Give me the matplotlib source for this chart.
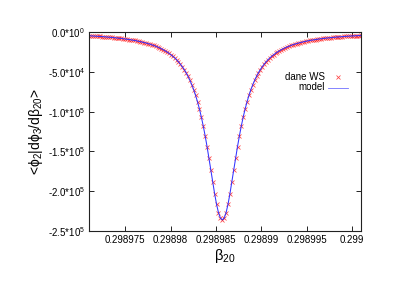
import matplotlib
matplotlib.use("Agg")
import matplotlib.pyplot as plt

plt.rcParams['font.family'] = ['Liberation Sans', 'DejaVu Sans']
plt.rcParams['mathtext.fontset'] = 'custom'
plt.rcParams['mathtext.rm'] = 'Liberation Sans'
plt.rcParams['mathtext.it'] = 'Liberation Sans:italic'

# beta_20 sample positions
beta20 = [
    0.29897100, 0.29897121, 0.29897142, 0.29897163, 0.29897184, 0.29897205, 0.29897226, 0.29897247, 0.29897268, 0.29897289,
    0.29897310, 0.29897331, 0.29897352, 0.29897373, 0.29897394, 0.29897415, 0.29897436, 0.29897457, 0.29897478, 0.29897499,
    0.29897520, 0.29897541, 0.29897562, 0.29897583, 0.29897604, 0.29897625, 0.29897646, 0.29897667, 0.29897688, 0.29897709,
    0.29897730, 0.29897751, 0.29897772, 0.29897793, 0.29897814, 0.29897835, 0.29897856, 0.29897877, 0.29897898, 0.29897919,
    0.29897940, 0.29897961, 0.29897982, 0.29898003, 0.29898024, 0.29898045, 0.29898066, 0.29898087, 0.29898108, 0.29898129,
    0.29898150, 0.29898171, 0.29898192, 0.29898213, 0.29898234, 0.29898255, 0.29898276, 0.29898297, 0.29898318, 0.29898339,
    0.29898360, 0.29898381, 0.29898402, 0.29898423, 0.29898444, 0.29898465, 0.29898486, 0.29898507, 0.29898528, 0.29898549,
    0.29898570, 0.29898591, 0.29898612, 0.29898633, 0.29898654, 0.29898675, 0.29898696, 0.29898717, 0.29898738, 0.29898759,
    0.29898780, 0.29898801, 0.29898822, 0.29898843, 0.29898864, 0.29898885, 0.29898906, 0.29898927, 0.29898948, 0.29898969,
    0.29898990, 0.29899011, 0.29899032, 0.29899053, 0.29899074, 0.29899095, 0.29899116, 0.29899137, 0.29899158, 0.29899179,
    0.29899200, 0.29899221, 0.29899242, 0.29899263, 0.29899284, 0.29899305, 0.29899326, 0.29899347, 0.29899368, 0.29899389,
    0.29899410, 0.29899431, 0.29899452, 0.29899473, 0.29899494, 0.29899515, 0.29899536, 0.29899557, 0.29899578, 0.29899599,
    0.29899620, 0.29899641, 0.29899662, 0.29899683, 0.29899704, 0.29899725, 0.29899746, 0.29899767, 0.29899788, 0.29899809,
    0.29899830, 0.29899851, 0.29899872, 0.29899893, 0.29899914, 0.29899935, 0.29899956, 0.29899977, 0.29899998, 0.29900019,
    0.29900040, 0.29900061, 0.29900082, 0.29900103,
]

# <phi2|dphi3/dbeta20> values (data "dane WS"; model follows the same points)
dane_ws = [
    -4720, -4855, -4996, -5143, -5296, -5457, -5624, -5800, -5984, -6176,
    -6378, -6590, -6813, -7047, -7293, -7552, -7825, -8113, -8417, -8737,
    -9077, -9436, -9817, -10221, -10650, -11106, -11591, -12109, -12661, -13251,
    -13882, -14559, -15285, -16065, -16905, -17811, -18790, -19849, -20996, -22243,
    -23600, -25080, -26697, -28468, -30412, -32552, -34911, -37520, -40411, -43623,
    -47200, -51193, -55660, -60668, -66292, -72615, -79730, -87732, -96721, -106787,
    -118000, -130387, -143902, -158389, -173529, -188800, -203448, -216514, -226923, -233663,
    -236000, -233663, -226923, -216514, -203448, -188800, -173529, -158389, -143902, -130387,
    -118000, -106787, -96721, -87732, -79730, -72615, -66292, -60668, -55660, -51193,
    -47200, -43623, -40411, -37520, -34911, -32552, -30412, -28468, -26697, -25080,
    -23600, -22243, -20996, -19849, -18790, -17811, -16905, -16065, -15285, -14559,
    -13882, -13251, -12661, -12109, -11591, -11106, -10650, -10221, -9817, -9436,
    -9077, -8737, -8417, -8113, -7825, -7552, -7293, -7047, -6813, -6590,
    -6378, -6176, -5984, -5800, -5624, -5457, -5296, -5143, -4996, -4855,
    -4720, -4591, -4466, -4347,
]
model = list(dane_ws)

xticks = [0.298975, 0.29898, 0.298985, 0.29899, 0.298995, 0.299]
xtick_labels = ['0.298975', '0.29898', '0.298985', '0.29899', '0.298995', '0.299']
yticks = [0, -50000, -100000, -150000, -200000, -250000]
ytick_labels = ['0.0*10$^{0}$', '-5.0*10$^{4}$', '-1.0*10$^{5}$', '-1.5*10$^{5}$',
                '-2.0*10$^{5}$', '-2.5*10$^{5}$']

fig = plt.figure(figsize=(4.07, 2.85), dpi=100)
ax = fig.add_axes([89 / 407, 1 - 231 / 285, (361 - 89) / 407, (231 - 32) / 285])

RED = '#ff2020'
BLUE = '#3333ff'
ax.plot(beta20, dane_ws, linestyle='none', marker='x', color=RED,
        markersize=2.8, markeredgewidth=0.55, alpha=0.85)
ax.plot(beta20, model, color=BLUE, linewidth=0.75)

ax.set_xlim(0.298971, 0.299001)
ax.set_ylim(-250000, 0)
ax.set_xticks(xticks)
ax.set_xticklabels(xtick_labels)
ax.set_yticks(yticks)
ax.set_yticklabels(ytick_labels)

ax.tick_params(direction='in', length=3.5, width=0.6, labelsize=7,
               top=True, right=True, colors='black', pad=3)
for s in ax.spines.values():
    s.set_linewidth(0.8)
    s.set_color('#222222')

ax.set_xlabel(r'$\mathrm{\beta}_{20}$', fontsize=10.5, labelpad=1)
ax.set_ylabel(r'<$\mathrm{\phi}_2$|d$\mathrm{\phi}_3$/d$\mathrm{\beta}_{20}$>',
              fontsize=10, labelpad=2)

# key (gnuplot style: text right-justified, sample on the right)
tx = (325 - 89) / (361 - 89)
y1 = 1 - (76.5 - 32) / (231 - 32)
y2 = 1 - (87.5 - 32) / (231 - 32)
ax.text(tx, y1, 'dane WS', transform=ax.transAxes, ha='right', va='center', fontsize=7)
ax.text(tx, y2, 'model', transform=ax.transAxes, ha='right', va='center', fontsize=7)
mx = (338 - 89) / (361 - 89)
ax.plot([mx], [y1], transform=ax.transAxes, marker='x', color=RED,
        markersize=2.8, markeredgewidth=0.55, linestyle='none', alpha=0.85)
ax.plot([(328 - 89) / (361 - 89), (348 - 89) / (361 - 89)], [y2, y2],
        transform=ax.transAxes, color=BLUE, linewidth=0.6, alpha=0.7)

fig.savefig('out.png', dpi=100)
